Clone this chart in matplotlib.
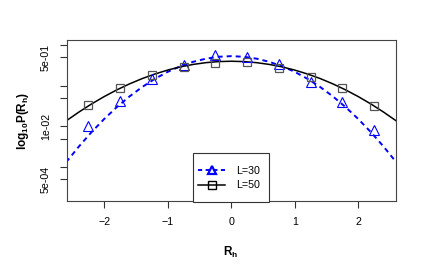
import numpy as np
import matplotlib
matplotlib.use('Agg')
import matplotlib.pyplot as plt
from matplotlib.patches import Rectangle

plt.rcParams['font.family'] = ['Liberation Sans', 'DejaVu Sans']
plt.rcParams['mathtext.fontset'] = 'custom'
plt.rcParams['mathtext.rm'] = 'Liberation Sans'
plt.rcParams['mathtext.bf'] = 'Liberation Sans:bold'
plt.rcParams['lines.scale_dashes'] = False

# simulated points
rh_points = [-2.25, -1.75, -1.25, -0.75, -0.25, 0.25, 0.75, 1.25, 1.75, 2.25]
p_L30 = [0.0104, 0.042, 0.146, 0.323, 0.568, 0.516, 0.341, 0.125, 0.0404, 0.0082]
p_L50 = [0.0345, 0.0893, 0.183, 0.283, 0.367, 0.382, 0.268, 0.166, 0.0863, 0.0317]

# reference curves
rh_curve = [-2.6, -2.4, -2.2, -2.0, -1.8, -1.6, -1.4, -1.2, -1.0, -0.8, -0.6, -0.4, -0.2, 0.0,
            0.2, 0.4, 0.6, 0.8, 1.0, 1.2, 1.4, 1.6, 1.8, 2.0, 2.2, 2.4, 2.6]
curve_L30 = [0.00131, 0.00318, 0.00721, 0.0152, 0.0299, 0.0547, 0.0931, 0.148, 0.219, 0.301,
             0.386, 0.461, 0.514, 0.532, 0.514, 0.461, 0.386, 0.301, 0.219, 0.148, 0.0931,
             0.0547, 0.0299, 0.0152, 0.00721, 0.00318, 0.00131]
curve_L50 = [0.0136, 0.0224, 0.0355, 0.0540, 0.0791, 0.111, 0.150, 0.194, 0.242, 0.290,
             0.333, 0.368, 0.391, 0.399, 0.391, 0.368, 0.333, 0.290, 0.242, 0.194, 0.150,
             0.111, 0.0791, 0.0540, 0.0355, 0.0224, 0.0136]

x_ticks = [-2, -1, 0, 1, 2]
y_ticks = [1, 0.5, 0.1, 0.05, 0.01, 0.005, 0.001, 0.0005]
y_ticklabels = ['', '5e-01', '', '', '1e-02', '', '', '5e-04']

fig = plt.figure(figsize=(4.36, 2.69), dpi=100)
ax = fig.add_axes([0.153, 0.2528, 0.7546, 0.5996])

ax.plot(rh_curve, curve_L30, color='#0000FF', lw=1.4, dashes=(3.6, 2.9))
ax.plot(rh_curve, curve_L50, color='black', lw=1.1)
ax.plot(rh_points, p_L30, ls='none', marker='^', ms=6.5, mfc='none', mec='#0000FF', mew=0.8)
ax.plot(rh_points, p_L50, ls='none', marker='s', ms=5.5, mfc='none', mec='#555555', mew=0.9)

ax.set_yscale('log')
ax.set_xlim(-2.59, 2.59)
ax.set_ylim(1.469e-4, 1.349)
ax.set_xticks(x_ticks)
ax.set_yticks(y_ticks)
ax.set_yticklabels(y_ticklabels, rotation=90, va='center')
ax.minorticks_off()
ax.tick_params(length=5, width=0.8, color='#333333', labelsize=7.7, pad=6.5)

for s in ax.spines.values():
    s.set_color('#444444')
    s.set_linewidth(0.8)

ax.set_xlabel(r'$\mathbf{R}_\mathbf{h}$', fontsize=8.5)
ax.xaxis.set_label_coords(0.4994, -0.272)
ax.set_ylabel(r'$\mathbf{log}_\mathbf{10}\mathbf{P(R}_\mathbf{h}\mathbf{)}$', fontsize=8.5)
ax.yaxis.set_label_coords(-0.108, 0.5)

# legend
h30, = ax.plot([], [], color='#0000FF', lw=1.4, dashes=(3.0, 2.5), marker='^', ms=6,
               mfc='none', mec='#0000FF', mew=1.6)
h50, = ax.plot([], [], color='black', lw=1.1, marker='s', ms=5.5, mfc='none', mec='black', mew=1.0)
leg = ax.legend([h30, h50], ['L=30', 'L=50'], loc='center', bbox_to_anchor=(0.493, 0.143),
                frameon=False, fontsize=7.7, handlelength=2.5, handletextpad=1.0,
                labelspacing=0.45, borderpad=0, borderaxespad=0)
ax.add_patch(Rectangle((0.384, -0.006), 0.231, 0.304, transform=ax.transAxes,
                       fill=True, fc='white', ec='#333333', lw=0.8, clip_on=False, zorder=4))
leg.set_zorder(5)

fig.savefig('out.png', dpi=100)
